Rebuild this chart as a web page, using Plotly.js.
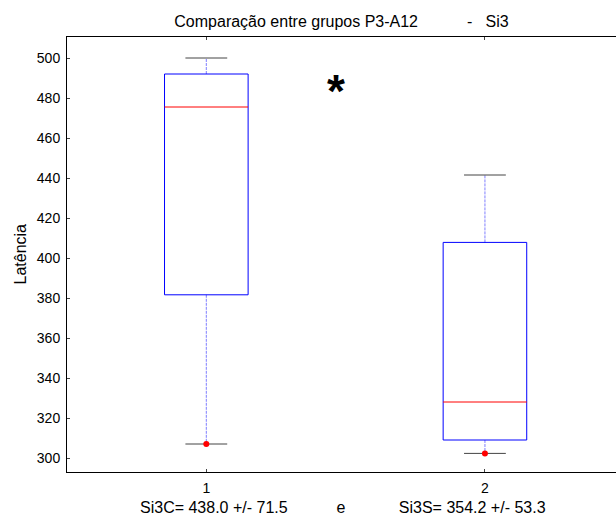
<!DOCTYPE html>
<html>
<head>
<meta charset="utf-8">
<script src="https://cdn.plot.ly/plotly-3.0.1.min.js"></script>
<style>html,body{margin:0;padding:0;background:#fff;}#chart{width:616px;height:517px;}</style>
</head>
<body>
<div id="chart"></div>
<script>
// ---- data ----
const groups = [1, 2];
const tickLabels = ['1', '2'];
const upperWhisker = [500, 441.5];
const q3Values = [492, 407.8];
const medianValues = [475.5, 328];
const q1Values = [381.6, 309];
const lowerWhisker = [307, 302.3];
const dotValues = [307, 302.3];
const yTicks = [300, 320, 340, 360, 380, 400, 420, 440, 460, 480, 500];

const NB = n => '\u00a0'.repeat(n);
const titleText = 'Comparação entre grupos P3-A12' + NB(11) + '-' + NB(3) + 'Si3';
const statsText = 'Si3C= 438.0 +/- 71.5' + NB(11) + 'e' + NB(12) + 'Si3S= 354.2 +/- 53.3';
const yTitle = 'Latência';

const boxHalf = 0.15, capHalf = 0.075;
const font = 'Liberation Sans, Arial, sans-serif';

const L = 67, T = 37, B = 472, PW = 616 - L, PH = B - T;
const titleCenterX = 341.5, statsCenterX = 343, axesCenterY = (T + B) / 2;

const traces = [];
groups.forEach((g, i) => {
  traces.push({x: [g, g], y: [q3Values[i], upperWhisker[i]], mode: 'lines',
    line: {color: '#7f7fff', width: 1, dash: '3px,1px'}, hoverinfo: 'skip'});
  traces.push({x: [g, g], y: [q1Values[i], lowerWhisker[i]], mode: 'lines',
    line: {color: '#7f7fff', width: 1, dash: '3px,1px'}, hoverinfo: 'skip'});
  traces.push({x: [g - capHalf, g + capHalf], y: [upperWhisker[i], upperWhisker[i]], mode: 'lines',
    line: {color: '#444', width: 1}, hoverinfo: 'skip'});
  traces.push({x: [g - capHalf, g + capHalf], y: [lowerWhisker[i], lowerWhisker[i]], mode: 'lines',
    line: {color: '#444', width: 1}, hoverinfo: 'skip'});
  traces.push({x: [g - boxHalf, g + boxHalf, g + boxHalf, g - boxHalf, g - boxHalf],
    y: [q1Values[i], q1Values[i], q3Values[i], q3Values[i], q1Values[i]], mode: 'lines',
    line: {color: '#0000ff', width: 1}, hoverinfo: 'skip'});
  traces.push({x: [g - boxHalf, g + boxHalf], y: [medianValues[i], medianValues[i]], mode: 'lines',
    line: {color: '#ff0000', width: 1}, hoverinfo: 'skip'});
});
traces.push({x: groups, y: dotValues, mode: 'markers',
  marker: {color: '#ff0000', size: 6}, hoverinfo: 'skip'});

const layout = {
  width: 616, height: 517,
  margin: {l: L, r: 0, t: T, b: 517 - B},
  paper_bgcolor: '#fff', plot_bgcolor: '#fff',
  showlegend: false,
  font: {family: font, size: 14, color: '#000'},
  title: {text: titleText, font: {family: font, size: 16, color: '#000'},
    x: titleCenterX / 616, xanchor: 'center', xref: 'container',
    y: 1 - 21 / 517, yanchor: 'middle', yref: 'container'},
  xaxis: {range: [0.5, 2 + (616 - 485) / 278.5], tickvals: groups, ticktext: tickLabels,
    showgrid: false, zeroline: false, showline: true, linecolor: '#000', linewidth: 1,
    mirror: 'ticks', ticks: 'inside', ticklen: 3, tickcolor: '#444', ticklabelstandoff: 3,
    tickfont: {family: font, size: 14}},
  yaxis: {range: [293, 510.5], tickvals: yTicks, showgrid: false, zeroline: false,
    showline: true, linecolor: '#000', linewidth: 1, ticks: 'inside', ticklen: 3, tickcolor: '#444',
    ticklabelstandoff: 3, tickfont: {family: font, size: 14}},
  annotations: [
    {text: '*', xref: 'x', yref: 'y', x: 1.467, y: 483.5, showarrow: false,
      font: {family: font, size: 46, color: '#000', weight: 'bold'}, xanchor: 'center', yanchor: 'middle'},
    {text: statsText, xref: 'paper', yref: 'paper', x: (statsCenterX - L) / PW, y: -(507 - B) / PH,
      showarrow: false, xanchor: 'center', yanchor: 'middle', font: {family: font, size: 16}},
    {text: yTitle, xref: 'paper', yref: 'paper', x: (20 - L) / PW, y: (B - axesCenterY) / PH,
      showarrow: false, xanchor: 'center', yanchor: 'middle', textangle: -90, font: {family: font, size: 16}}
  ]
};

Plotly.newPlot('chart', traces, layout, {staticPlot: true, displayModeBar: false});
</script>
</body>
</html>
